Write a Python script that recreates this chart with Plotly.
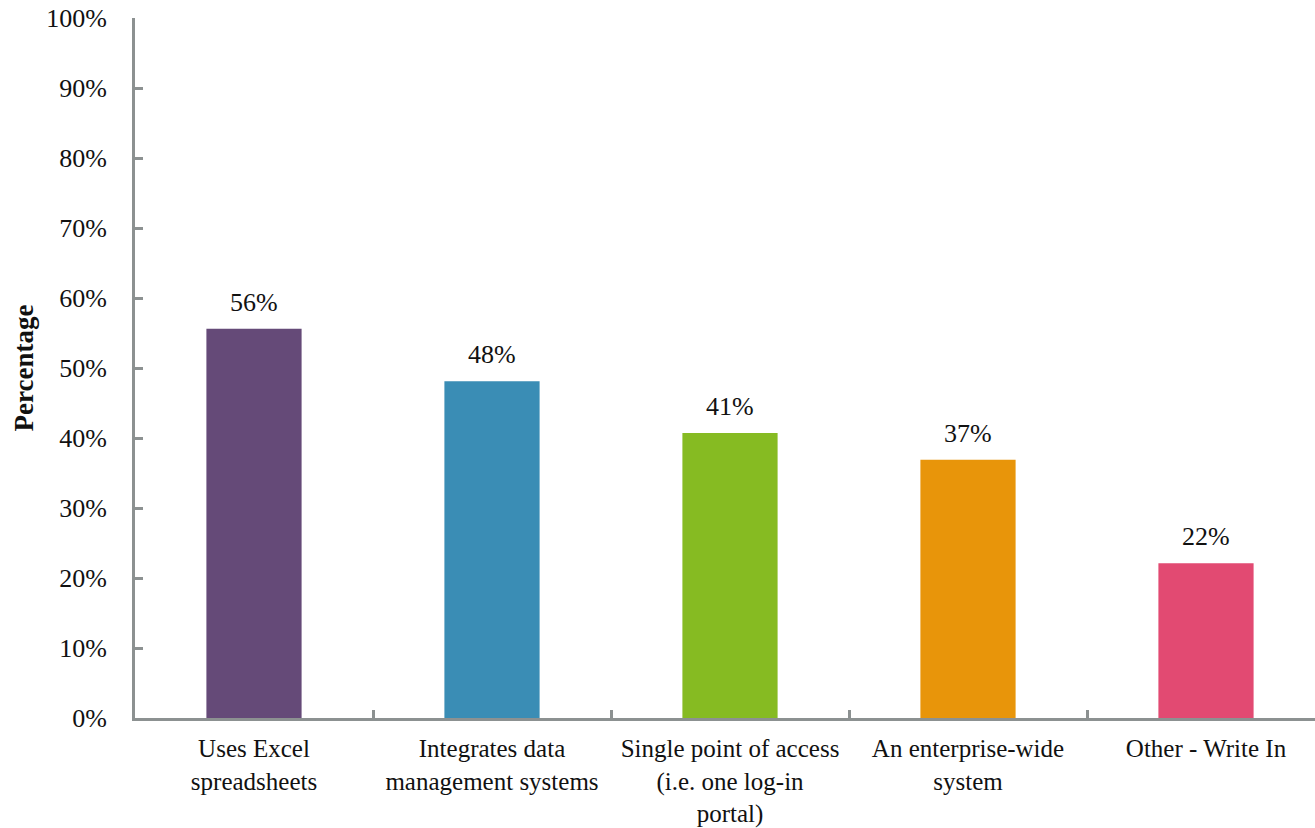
import plotly.graph_objects as go

categories = ["Uses Excel<br>spreadsheets", "Integrates data<br>management systems",
              "Single point of access<br>(i.e. one log-in<br>portal)", "An enterprise-wide<br>system",
              "Other - Write In"]
values = [55.6, 48.1, 40.7, 36.9, 22.1]
labels = ["56%", "48%", "41%", "37%", "22%"]
colors = ["#654a78", "#3a8db5", "#86bb22", "#e8950a", "#e24a72"]

font = "Liberation Serif, DejaVu Serif, serif"
axis_color = "#8c9191"
txt = "#111"

fig = go.Figure(go.Bar(
    x=categories, y=values,
    marker=dict(color=colors, line=dict(width=0)),
    width=0.4,
))

for c, v, t in zip(categories, values, labels):
    fig.add_annotation(x=c, y=v, text=t, showarrow=False, yanchor="bottom", yshift=10,
                       font=dict(family=font, size=26, color=txt))

fig.update_layout(
    width=1315, height=828,
    margin=dict(l=135, r=0, t=18, b=110),
    plot_bgcolor="white", paper_bgcolor="white",
    font=dict(family=font, size=26, color=txt),
    showlegend=False,
)
fig.update_xaxes(
    range=[-0.5, 4.458], showline=True, linecolor=axis_color, linewidth=3,
    ticks="inside", tickson="boundaries", ticklen=8, tickwidth=3, tickcolor=axis_color,
    showgrid=False, tickfont=dict(family=font, size=25, color=txt), ticklabelstandoff=6,
    tickangle=0, automargin=False,
)
fig.update_yaxes(
    range=[0, 100], dtick=10, ticksuffix="%", showline=True, linecolor=axis_color, linewidth=3,
    ticks="inside", ticklen=8, tickwidth=3, tickcolor=axis_color, showgrid=False, zeroline=False,
    tickfont=dict(family=font, size=26, color=txt), ticklabelstandoff=20, automargin=False,
    title=dict(text="<b>Percentage</b>", font=dict(family=font, size=27, color=txt), standoff=5),
)

fig.write_html("out.html")
